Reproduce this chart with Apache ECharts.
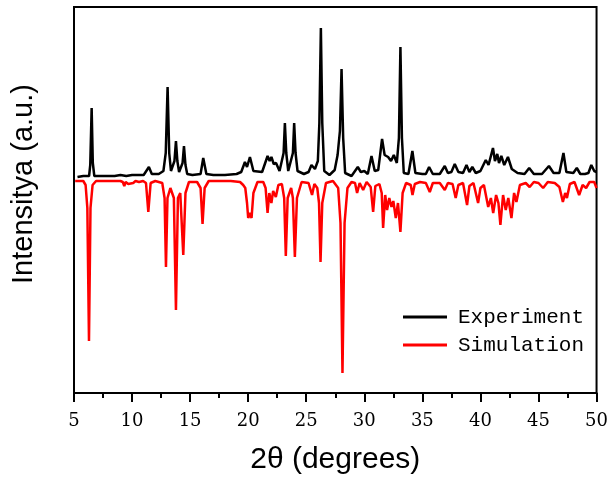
<!DOCTYPE html>
<html>
<head>
<meta charset="utf-8">
<script src="https://cdn.jsdelivr.net/npm/echarts@6/dist/echarts.min.js"></script>
<style>
html,body{margin:0;padding:0;background:#fff;}
#chart{width:611px;height:483px;}
</style>
</head>
<body>
<div id="chart"></div>
<script>
// 2θ (degrees) tick range
var xTicks = [5, 10, 15, 20, 25, 30, 35, 40, 45, 50];

// Experimental pattern: [2θ, intensity (a.u.)]
var experiment = [
  [5.3,216],[5.8,217],[6.3,217],[6.4,228],[6.52,285],[6.62,230],[6.75,217],[7.5,217],[8.5,217],[9.0,218],[9.5,217],
  [10.0,218],[10.5,218],[11.0,218],[11.45,226],[11.7,219],[12.3,219],[12.7,222],[12.9,240],[13.06,306],
  [13.2,240],[13.35,222],[13.65,232],[13.78,252],[13.9,232],[14.05,221],[14.35,230],[14.47,247],[14.6,228],[14.75,219],[15.2,218],[15.9,219],[16.13,235],
  [16.4,219],[17.0,218],[18.0,218],[19.0,219],[19.4,221],[19.72,231],[19.9,226],[20.15,236],
  [20.45,222],[21.2,221],[21.67,237],[21.85,232],[22.0,236],[22.2,229],[22.4,230],[22.7,222],
  [23.05,240],[23.16,270],[23.28,240],[23.45,222],[23.85,240],[23.96,270],[24.08,240],[24.25,222],[24.8,219],[25.2,221],[25.45,228],[25.75,224],
  [26.0,232],[26.13,270],[26.26,365],[26.38,270],[26.55,222],[27.0,218],[27.45,223],[27.7,238],[27.9,262],[28.04,324],[28.18,255],[28.35,220],[28.9,217],[29.2,222],
  [29.44,226],[29.7,221],[30.0,222],[30.3,219],[30.62,237],[30.9,222],[31.2,223],[31.53,254],
  [31.75,238],[32.05,236],[32.3,232],[32.54,238],[32.8,230],[32.98,255],[33.11,346],[33.24,255],[33.4,220],[33.8,219],
  [34.14,242],[34.4,220],[35.0,219],[35.3,219],[35.58,226],[35.9,219],[36.5,219],[36.93,227],
  [37.2,220],[37.5,221],[37.79,229],[38.1,221],[38.5,220],[38.8,228],[39.05,221],[39.3,226],
  [39.6,220],[40.0,222],[40.46,233],[40.7,228],[41.08,245],[41.25,232],[41.45,239],[41.6,230],
  [41.8,237],[42.05,228],[42.37,236],[42.7,224],[43.2,220],[43.8,219],[44.2,225],[44.6,219],
  [45.3,219],[45.9,227],[46.3,220],[46.8,220],[47.15,240],[47.4,221],[48.0,220],[48.3,225],
  [48.6,219],[49.0,219],[49.3,220],[49.55,228],[49.8,222],[50.0,221]
];

// Simulated pattern (plotted inverted): [2θ, intensity (a.u.)]
var simulation = [
  [5.1,212],[5.8,212],[6.0,208],[6.15,185],[6.29,52],[6.42,185],[6.6,208],[6.9,212],[8.0,212],
  [9.0,212],[9.2,211],[9.33,207],[9.45,211],[9.6,210],[9.67,209],[9.8,211],[10.1,210],[10.3,212],
  [10.6,211],[10.77,209],[10.95,212],[11.2,210],[11.4,181],[11.6,210],[12.0,212],[12.6,210],
  [12.8,195],[12.92,126],[13.05,195],[13.3,205],[13.6,195],[13.78,83],[13.95,195],[14.15,200],
  [14.41,138],[14.6,200],[14.9,211],[15.6,211],[15.9,205],[16.07,169],[16.25,205],[16.6,212],
  [17.5,212],[18.5,212],[19.3,211],[19.57,208],[19.75,205],[19.9,190],[20.0,175],[20.15,180],
  [20.29,175],[20.45,200],[20.8,211],[21.3,211],[21.5,205],[21.67,180],[21.82,200],[22.0,190],
  [22.15,202],[22.38,196],[22.6,208],[22.9,209],[23.1,195],[23.24,137],[23.4,195],[23.7,205],
  [23.85,195],[24.02,136],[24.2,195],[24.6,211],[25.2,210],[25.5,198],[25.7,209],[25.95,205],
  [26.1,190],[26.23,131],[26.38,190],[26.7,210],[27.3,212],[27.75,205],[27.95,170],[28.12,20],
  [28.3,170],[28.55,205],[28.9,211],[29.2,210],[29.38,200],[29.6,210],[29.9,203],[30.2,211],
  [30.55,206],[30.76,181],[30.95,207],[31.3,209],[31.5,200],[31.62,165],[31.8,198],[31.96,183],
  [32.15,195],[32.34,186],[32.5,192],[32.71,175],[32.9,190],[33.11,161],[33.3,200],[33.6,210],
  [34.0,208],[34.15,198],[34.35,209],[34.8,211],[35.3,210],[35.64,201],[35.9,210],[36.5,210],
  [36.93,203],[37.2,210],[37.6,209],[37.87,195],[38.1,208],[38.5,210],[38.85,188],[39.05,207],
  [39.4,210],[39.8,190],[40.0,205],[40.3,208],[40.67,186],[40.9,195],[41.1,180],[41.35,198],
  [41.55,190],[41.72,168],[41.95,198],[42.18,183],[42.4,195],[42.67,175],[42.9,200],[43.1,191],
  [43.4,208],[43.9,210],[44.24,206],[44.6,211],[45.0,210],[45.4,205],[45.8,211],[46.4,210],
  [46.8,206],[47.1,191],[47.3,200],[47.45,195],[47.7,209],[48.1,211],[48.5,198],[48.8,208],
  [49.1,205],[49.4,211],[49.8,211],[50.0,205]
];

var seriesNames = ['Experiment', 'Simulation'];

var chart = echarts.init(document.getElementById('chart'), null, {renderer: 'canvas'});
chart.setOption({
  animation: false,
  backgroundColor: '#fff',
  grid: {left: 74, right: 14, top: 7, bottom: 90, show: true, borderColor: '#000', borderWidth: 2, backgroundColor: 'transparent'},
  legend: {
    data: seriesNames.map(function(n){ return {name: n, icon: 'rect'}; }),
    orient: 'vertical',
    left: 398,
    top: 301,
    itemWidth: 44,
    itemHeight: 3,
    itemGap: 6,
    textStyle: {fontFamily: 'Liberation Mono', fontSize: 21, color: '#000', lineHeight: 22, padding: [0,0,0,6]}
  },
  xAxis: {
    type: 'value',
    min: xTicks[0],
    max: xTicks[xTicks.length - 1],
    interval: 5,
    name: '2θ (degrees)',
    nameLocation: 'middle',
    nameGap: 52,
    nameTextStyle: {fontFamily: 'Liberation Sans', fontSize: 30, color: '#000'},
    axisLine: {show: true, lineStyle: {color: '#000', width: 2}},
    axisTick: {show: true, inside: false, length: 9, lineStyle: {color: '#000', width: 2}},
    minorTick: {show: true, splitNumber: 2, length: 5, lineStyle: {color: '#000', width: 2}},
    axisLabel: {fontFamily: 'DejaVu Serif', fontSize: 18, color: '#000', margin: 19},
    splitLine: {show: false}
  },
  yAxis: {
    type: 'value',
    min: 0,
    max: 386,
    name: 'Intensitya (a.u.)',
    nameLocation: 'middle',
    nameGap: 36,
    nameTextStyle: {fontFamily: 'Liberation Sans', fontSize: 29, color: '#000', padding: [0, 0, 0, 32]},
    axisLine: {show: true, lineStyle: {color: '#000', width: 2}},
    axisTick: {show: false},
    axisLabel: {show: false},
    splitLine: {show: false}
  },
  series: [
    {name: seriesNames[0], type: 'line', data: experiment, showSymbol: false, symbol: 'none',
     lineStyle: {color: '#000', width: 2.5}, itemStyle: {color: '#000'}, z: 3},
    {name: seriesNames[1], type: 'line', data: simulation, showSymbol: false, symbol: 'none',
     lineStyle: {color: '#ff0000', width: 2.5}, itemStyle: {color: '#ff0000'}, z: 2}
  ]
});
</script>
</body>
</html>
